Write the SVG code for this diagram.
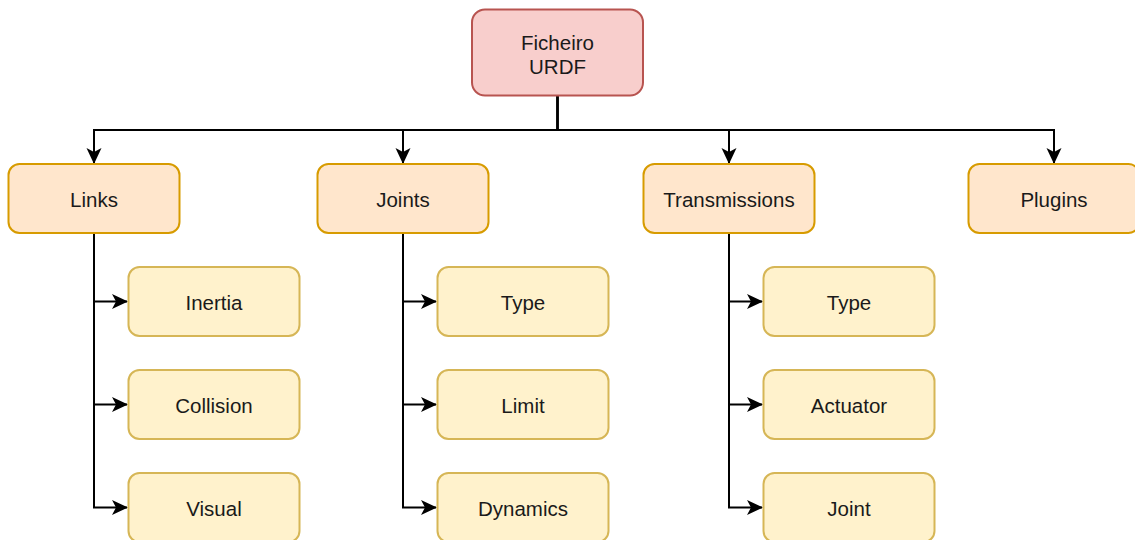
<svg xmlns="http://www.w3.org/2000/svg" width="1135" height="540" viewBox="0 0 1135 540">
  <defs>
    <marker id="arrow" viewBox="0 0 16 16" refX="15" refY="8" markerWidth="16" markerHeight="16" markerUnits="userSpaceOnUse" orient="auto">
      <path d="M0,0.5 L16,8 L0,15.5 L4,8 Z" fill="#000"/>
    </marker>
  </defs>
  <style>
    .root rect { fill: #f8cecc; stroke: #b85450; stroke-width: 2; }
    .cat rect { fill: #ffe6cc; stroke: #d79b00; stroke-width: 2; }
    .item rect { fill: #fff2cc; stroke: #d6b656; stroke-width: 2; }
    text { font-family: "Liberation Sans", Arial, sans-serif; font-size: 20.5px; fill: #1a1a1a; text-anchor: middle; dominant-baseline: central; }
    .edge { fill: none; stroke: #000; stroke-width: 2; marker-end: url(#arrow); }
  </style>
  <rect width="1135" height="540" fill="#fff"/>

  <!-- connectors -->
  <g id="connectors">
    <path class="edge" d="M557.5,96 V130 H94 V163"/>
    <path class="edge" d="M557.5,96 V130 H403 V163"/>
    <path class="edge" d="M557.5,96 V130 H729 V163"/>
    <path class="edge" d="M557.5,96 V130 H1054 V163"/>

    <path class="edge" d="M94,233 V301.5 H127"/>
    <path class="edge" d="M94,233 V404.5 H127"/>
    <path class="edge" d="M94,233 V507.5 H127"/>

    <path class="edge" d="M403,233 V301.5 H436"/>
    <path class="edge" d="M403,233 V404.5 H436"/>
    <path class="edge" d="M403,233 V507.5 H436"/>

    <path class="edge" d="M729,233 V301.5 H762"/>
    <path class="edge" d="M729,233 V404.5 H762"/>
    <path class="edge" d="M729,233 V507.5 H762"/>
  </g>

  <!-- root -->
  <g id="ficheiro-urdf" class="root">
    <rect x="472" y="9.5" width="171" height="86" rx="13"/>
    <text x="557.5" y="42">Ficheiro</text>
    <text x="557.5" y="66">URDF</text>
  </g>

  <!-- categories -->
  <g id="links" class="cat">
    <rect x="8.5" y="164" width="171" height="69" rx="11"/>
    <text x="94" y="199">Links</text>
  </g>
  <g id="joints" class="cat">
    <rect x="317.5" y="164" width="171" height="69" rx="11"/>
    <text x="403" y="199">Joints</text>
  </g>
  <g id="transmissions" class="cat">
    <rect x="643.5" y="164" width="171" height="69" rx="11"/>
    <text x="729" y="199">Transmissions</text>
  </g>
  <g id="plugins" class="cat">
    <rect x="968.5" y="164" width="171" height="69" rx="11"/>
    <text x="1054" y="199">Plugins</text>
  </g>

  <!-- Links children -->
  <g id="inertia" class="item">
    <rect x="128.5" y="267" width="171" height="69" rx="11"/>
    <text x="214" y="302">Inertia</text>
  </g>
  <g id="collision" class="item">
    <rect x="128.5" y="370" width="171" height="69" rx="11"/>
    <text x="214" y="405">Collision</text>
  </g>
  <g id="visual" class="item">
    <rect x="128.5" y="473" width="171" height="69" rx="11"/>
    <text x="214" y="508">Visual</text>
  </g>

  <!-- Joints children -->
  <g id="joint-type" class="item">
    <rect x="437.5" y="267" width="171" height="69" rx="11"/>
    <text x="523" y="302">Type</text>
  </g>
  <g id="limit" class="item">
    <rect x="437.5" y="370" width="171" height="69" rx="11"/>
    <text x="523" y="405">Limit</text>
  </g>
  <g id="dynamics" class="item">
    <rect x="437.5" y="473" width="171" height="69" rx="11"/>
    <text x="523" y="508">Dynamics</text>
  </g>

  <!-- Transmissions children -->
  <g id="transmission-type" class="item">
    <rect x="763.5" y="267" width="171" height="69" rx="11"/>
    <text x="849" y="302">Type</text>
  </g>
  <g id="actuator" class="item">
    <rect x="763.5" y="370" width="171" height="69" rx="11"/>
    <text x="849" y="405">Actuator</text>
  </g>
  <g id="joint" class="item">
    <rect x="763.5" y="473" width="171" height="69" rx="11"/>
    <text x="849" y="508">Joint</text>
  </g>
</svg>
